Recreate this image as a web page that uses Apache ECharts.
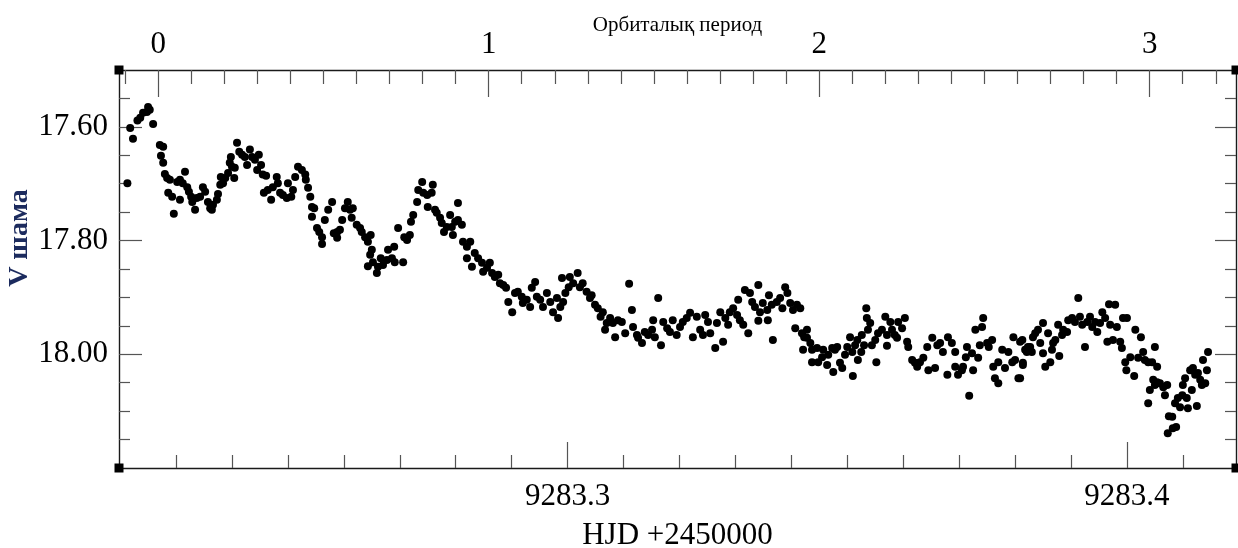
<!DOCTYPE html>
<html>
<head>
<meta charset="utf-8">
<script src="https://cdn.jsdelivr.net/npm/echarts@6/dist/echarts.min.js"></script>
<style>
  html, body { margin: 0; padding: 0; background: #fff; }
  #chart { width: 1238px; height: 548px; }
</style>
</head>
<body>
<div id="chart"></div>
<script>
// Light curve: V magnitude against time (HJD - 2459283, days)
const hjdBase = 9283;
const hjdOffset = [
  0.2213,0.2218,0.2223,0.2231,0.2236,0.2241,0.2248,0.2250,0.2253,0.2259,
  0.2271,0.2277,0.2273,0.2277,0.2280,0.2284,0.2289,0.2286,0.2293,0.2296,
  0.2302,0.2307,0.2307,0.2312,0.2316,0.2320,0.2323,0.2327,0.2329,0.2334,
  0.2337,0.2343,0.2348,0.2352,0.2357,0.2361,0.2364,0.2366,0.2373,0.2375,
  0.2379,0.2380,0.2384,0.2388,0.2393,0.2396,0.2400,0.2398,0.2404,0.2405,
  0.2409,0.2413,0.2418,0.2423,0.2427,0.2432,0.2436,0.2441,0.2445,0.2448,
  0.2452,0.2455,0.2461,0.2457,0.2464,0.2470,0.2473,0.2480,0.2482,0.2486,
  0.2491,0.2498,0.2500,0.2506,0.2509,0.2513,0.2518,0.2525,0.2531,0.2532,
  0.2536,0.2540,0.2543,0.2547,0.2543,0.2552,0.2556,0.2561,0.2561,0.2566,
  0.2572,0.2579,0.2582,0.2588,0.2593,0.2597,0.2602,
  0.2588,0.2607,0.2611,0.2614,0.2616,0.2623,0.2629,0.2632,0.2638,0.2643,
  0.2648,0.2650,0.2647,0.2643,0.2652,0.2659,0.2661,0.2666,0.2670,0.2677,
  0.2679,0.2686,0.2690,0.2691,0.2697,0.2706,0.2708,0.2713,0.2718,0.2720,
  0.2724,0.2731,0.2733,0.2740,0.2742,0.2749,0.2750,0.2757,0.2759,0.2763,
  0.2766,0.2772,0.2775,0.2779,0.2784,0.2790,0.2793,0.2795,0.2804,0.2799,
  0.2804,0.2811,0.2813,0.2820,0.2826,0.2820,0.2829,0.2834,0.2840,0.2847,
  0.2849,0.2856,0.2861,0.2865,0.2870,0.2876,0.2879,0.2885,0.2890,0.2894,
  0.2901,0.2906,0.2911,0.2918,0.2920,0.2927,0.2933,0.2936,0.2942,0.2945,
  0.2951,0.2956,0.2963,0.2969,0.2974,0.2983,0.2981,0.2990,0.2992,
  0.2987,0.2996,0.3002,0.3004,0.3010,0.3018,0.3022,0.3027,0.3034,0.3040,
  0.3043,0.3049,0.3054,0.3059,0.3063,0.3067,0.3070,0.3076,0.3081,0.3085,
  0.3090,0.3097,0.3103,0.3110,0.3115,0.3117,0.3124,0.3126,0.3133,0.3138,
  0.3144,0.3151,0.3153,0.3156,0.3162,0.3167,0.3171,0.3178,0.3183,0.3188,
  0.3195,0.3201,0.3206,0.3213,0.3219,0.3224,0.3231,0.3237,0.3242,0.3246,
  0.3251,0.3255,0.3264,0.3267,0.3273,0.3278,0.3282,0.3287,0.3290,0.3296,
  0.3303,0.3305,0.3308,0.3314,0.3317,0.3323,0.3326,0.3330,0.3335,0.3341,
  0.3344,0.3341,0.3349,0.3357,0.3358,0.3360,0.3367,0.3365,0.3374,0.3380,
  0.3384,0.3389,0.3393,0.3398,0.3403,0.3407,0.3410,0.3416,0.3419,0.3421,
  0.3428,0.3434,0.3437,
  0.3423,0.3428,0.3437,0.3446,0.3448,0.3455,0.3457,0.3464,0.3466,0.3473,
  0.3475,0.3478,0.3482,0.3487,0.3491,0.3496,0.3500,0.3505,0.3509,0.3510,
  0.3514,0.3518,0.3519,0.3525,0.3526,0.3530,0.3534,0.3535,0.3541,0.3537,
  0.3544,0.3550,0.3552,0.3555,0.3562,0.3568,0.3571,0.3571,0.3577,0.3580,
  0.3585,0.3589,0.3591,0.3598,0.3603,0.3607,0.3609,0.3616,0.3621,0.3625,
  0.3630,0.3636,0.3643,0.3645,0.3652,0.3657,0.3661,0.3666,0.3671,0.3679,
  0.3680,0.3687,0.3693,0.3693,0.3698,0.3705,0.3707,0.3712,0.3714,0.3718,
  0.3723,0.3725,0.3729,0.3734,0.3737,0.3741,0.3743,0.3750,0.3753,0.3759,
  0.3761,0.3764,0.3770,0.3770,0.3777,0.3782,0.3788,0.3795,0.3797,0.3800,
  0.3806,0.3809,0.3814,0.3821,0.3823,
  0.3809,0.3813,0.3818,0.3814,0.3827,0.3830,0.3832,0.3836,0.3841,0.3845,
  0.3850,0.3850,0.3854,0.3859,0.3863,0.3866,0.3868,0.3872,0.3877,0.3879,
  0.3884,0.3886,0.3893,0.3895,0.3902,0.3907,0.3913,0.3916,0.3920,0.3925,
  0.3929,0.3934,0.3938,0.3943,0.3947,0.3952,0.3956,0.3961,0.3965,0.3968,
  0.3970,0.3975,0.3979,0.3982,0.3988,0.3991,0.3993,0.4000,0.3997,0.3999,
  0.4006,0.4013,0.4015,0.4020,0.4025,0.4029,0.4032,0.4038,0.4045,0.4050,
  0.4054,0.4038,0.4041,0.4047,0.4050,0.4054,0.4059,0.4065,0.4068,0.4072,
  0.4075,0.4081,0.4073,0.4082,0.4088,0.4086,0.4091,0.4095,0.4099,0.4100,
  0.4104,0.4107,0.4109,0.4113,0.4116,0.4118,0.4122,0.4125,0.4127,0.4131,
  0.4134,0.4136,0.4140,0.4143,0.4145
];
const vMag = [
  17.699,17.602,17.621,17.589,17.584,17.575,17.574,17.565,17.570,17.595,
  17.632,17.635,17.651,17.663,17.683,17.690,17.693,17.716,17.723,17.753,
  17.697,17.693,17.728,17.699,17.679,17.706,17.714,17.723,17.732,17.746,
  17.725,17.723,17.706,17.714,17.732,17.743,17.746,17.737,17.728,17.718,
  17.702,17.688,17.699,17.690,17.681,17.663,17.670,17.653,17.690,17.672,
  17.628,17.644,17.649,17.653,17.667,17.640,17.653,17.658,17.676,17.649,
  17.667,17.684,17.686,17.716,17.711,17.728,17.706,17.688,17.699,17.716,
  17.720,17.725,17.699,17.723,17.711,17.688,17.670,17.676,17.684,17.693,
  17.707,17.723,17.741,17.743,17.758,17.778,17.785,17.794,17.806,17.764,
  17.746,17.732,17.787,17.785,17.781,17.764,17.743,
  17.795,17.732,17.746,17.760,17.743,17.772,17.778,17.785,17.794,17.802,
  17.790,17.816,17.825,17.845,17.838,17.857,17.846,17.831,17.843,17.834,
  17.816,17.831,17.811,17.838,17.778,17.838,17.794,17.799,17.790,17.767,
  17.755,17.732,17.711,17.697,17.716,17.720,17.741,17.716,17.702,17.746,
  17.751,17.760,17.769,17.785,17.776,17.755,17.776,17.790,17.734,17.767,
  17.764,17.772,17.802,17.811,17.802,17.831,17.846,17.822,17.831,17.839,
  17.855,17.848,17.839,17.857,17.864,17.860,17.875,17.878,17.883,17.908,
  17.926,17.892,17.890,17.899,17.910,17.904,17.917,17.883,17.873,17.899,
  17.904,17.917,17.892,17.908,17.926,17.936,17.901,17.866,17.908,
  17.917,17.892,17.882,17.864,17.875,17.857,17.882,17.875,17.890,17.901,
  17.896,17.913,17.919,17.934,17.926,17.957,17.945,17.936,17.945,17.970,
  17.940,17.943,17.963,17.876,17.922,17.952,17.966,17.971,17.980,17.961,
  17.966,17.957,17.940,17.970,17.901,17.984,17.943,17.954,17.961,17.940,
  17.966,17.952,17.943,17.936,17.927,17.970,17.934,17.957,17.966,17.931,
  17.943,17.963,17.989,17.945,17.926,17.978,17.936,17.948,17.926,17.919,
  17.931,17.904,17.940,17.948,17.887,17.963,17.892,17.908,17.917,17.878,
  17.926,17.941,17.910,17.922,17.940,17.896,17.975,17.913,17.908,17.901,
  17.919,17.882,17.892,17.910,17.922,17.954,17.913,17.919,17.963,17.992,
  17.971,17.980,17.992,
  17.970,17.957,18.014,17.989,18.014,18.005,17.992,18.019,18.001,17.989,
  18.031,17.992,17.987,18.015,18.024,18.001,17.987,17.970,17.996,18.038,
  17.984,17.975,18.010,17.996,17.966,17.984,17.919,17.936,17.945,17.957,
  17.984,17.975,18.014,17.963,17.957,17.934,17.966,17.985,17.943,17.957,
  17.966,17.971,17.943,17.954,17.936,17.978,17.987,18.010,18.015,18.022,
  18.014,18.006,17.987,18.028,17.971,18.024,17.984,17.980,17.996,18.036,
  17.970,17.980,17.996,18.022,18.036,18.028,18.022,18.005,17.987,18.073,
  17.998,18.028,17.957,18.006,17.984,17.952,17.936,17.980,17.987,17.975,
  18.022,18.042,18.051,18.014,17.992,18.024,17.996,18.014,17.970,18.010,
  18.042,17.978,18.015,17.996,17.987,
  18.042,17.975,17.992,18.019,17.987,17.996,17.970,17.963,17.957,17.980,
  17.998,17.945,18.022,17.963,18.014,17.992,17.980,17.975,17.948,18.003,
  17.966,17.957,17.961,17.940,17.936,17.943,17.901,17.934,17.948,17.987,
  17.943,17.934,17.952,17.943,17.961,17.945,17.926,17.936,17.978,17.912,
  17.948,17.975,17.913,17.952,17.978,17.989,17.936,17.936,18.014,18.028,
  18.005,18.038,17.957,18.006,17.970,17.996,18.010,18.014,18.014,17.987,
  18.022,18.086,18.063,18.045,18.054,18.049,18.051,18.058,18.072,18.054,
  18.109,18.110,18.139,18.130,18.128,18.086,18.077,18.093,18.072,18.054,
  18.042,18.077,18.095,18.028,18.063,18.024,18.036,18.091,18.033,18.045,
  18.054,18.010,18.051,18.028,17.996
];

// Axis ranges and ephemeris for the orbital-phase scale
const X_MIN = 9283.2198, X_MAX = 9283.4195;
const Y_MIN = 17.50, Y_MAX = 18.20;
const T0 = 9283.2268;      // phase zero
const PERIOD = 0.05909;    // days
const hjdLabels = [9283.3, 9283.4];
const magLabels = [17.60, 17.80, 18.00];
const phaseLabels = [0, 1, 2, 3];

const hjdMinor = [];
for (let i = 23; i <= 41; i++) { if (i !== 30 && i !== 40) hjdMinor.push(hjdBase + i / 100); }
const magMinor = [];
for (let i = 351; i <= 363; i++) { if (i % 4 !== 0) magMinor.push(i / 20); }
const phaseMinor = [];
for (let i = -1; i <= 32; i++) { if (i % 10 !== 0) phaseMinor.push(i / 10); }

const points = hjdOffset.map((t, i) => [hjdBase + t, vMag[i]]);
const corners = [[X_MIN, Y_MIN], [X_MIN, Y_MAX], [X_MAX, Y_MIN], [X_MAX, Y_MAX]];

const FONT = 'Liberation Serif';
const lineStyle = { color: '#1a1a1a', width: 1.4 };
const tickStyle = { color: '#555', width: 1.2 };
const PHASE_MIN = (X_MIN - T0) / PERIOD, PHASE_MAX = (X_MAX - T0) / PERIOD;

function valueAxis(extra) {
  return Object.assign({
    type: 'value', scale: true, nameMoveOverlap: false,
    splitLine: { show: false },
    axisLine: { show: true, onZero: false, lineStyle: lineStyle },
  }, extra);
}
// Second, identical frame that carries only the long (major) ticks
function majorTicks(gridIndex, position, min, max, values, length, inverse) {
  return valueAxis({
    gridIndex, position, min, max, inverse: !!inverse,
    axisLine: { show: false, onZero: false },
    axisTick: { show: true, inside: true, length, lineStyle: tickStyle, customValues: values },
    axisLabel: { show: false }
  });
}

const box = { left: 119, right: 2, top: 70, bottom: 80, containLabel: false, outerBoundsMode: 'none' };

const chart = echarts.init(document.getElementById('chart'), null, { renderer: 'canvas' });
chart.setOption({
  animation: false,
  backgroundColor: '#fff',
  grid: [Object.assign({}, box), Object.assign({}, box)],
  xAxis: [
    valueAxis({
      gridIndex: 0, position: 'bottom', min: X_MIN, max: X_MAX,
      name: 'HJD +2450000', nameLocation: 'middle', nameGap: 52,
      nameTextStyle: { fontFamily: FONT, fontSize: 31, color: '#000' },
      axisTick: { show: true, inside: true, length: 13, lineStyle: tickStyle, customValues: hjdMinor },
      axisLabel: { show: true, margin: 13, fontFamily: FONT, fontSize: 31, color: '#000',
        customValues: hjdLabels, formatter: v => v.toFixed(1) }
    }),
    valueAxis({
      gridIndex: 0, position: 'top', min: PHASE_MIN, max: PHASE_MAX,
      name: 'Орбиталық период', nameLocation: 'middle', nameGap: 34,
      nameTextStyle: { fontFamily: FONT, fontSize: 21, color: '#000' },
      axisTick: { show: true, inside: true, length: 14, lineStyle: tickStyle, customValues: phaseMinor },
      axisLabel: { show: true, margin: 10, fontFamily: FONT, fontSize: 31, color: '#000',
        customValues: phaseLabels, formatter: v => String(Math.round(v)) }
    }),
    majorTicks(1, 'bottom', X_MIN, X_MAX, hjdLabels, 26),
    majorTicks(1, 'top', PHASE_MIN, PHASE_MAX, phaseLabels, 27)
  ],
  yAxis: [
    valueAxis({
      gridIndex: 0, position: 'left', min: Y_MIN, max: Y_MAX, inverse: true,
      axisTick: { show: true, inside: true, length: 11, lineStyle: tickStyle, customValues: magMinor },
      axisLabel: { show: true, margin: 11, fontFamily: FONT, fontSize: 31, color: '#000',
        customValues: magLabels, formatter: v => v.toFixed(2) }
    }),
    valueAxis({
      gridIndex: 0, position: 'right', min: Y_MIN, max: Y_MAX, inverse: true,
      axisTick: { show: true, inside: true, length: 11, lineStyle: tickStyle, customValues: magMinor },
      axisLabel: { show: false }
    }),
    majorTicks(1, 'left', Y_MIN, Y_MAX, magLabels, 23, true),
    majorTicks(1, 'right', Y_MIN, Y_MAX, magLabels, 21, true)
  ],
  graphic: [{
    type: 'text', x: 20, y: 238, rotation: Math.PI / 2, silent: true,
    style: { text: 'V шама', fontFamily: FONT, fontSize: 28, fontWeight: 'bold',
      fill: '#1c2b5e', align: 'center', verticalAlign: 'middle' }
  }],
  series: [
    {
      type: 'scatter', xAxisIndex: 0, yAxisIndex: 0,
      data: points, symbol: 'circle', symbolSize: 8,
      itemStyle: { color: '#000', opacity: 1 }, silent: true
    },
    {
      type: 'scatter', xAxisIndex: 0, yAxisIndex: 0, clip: false,
      data: corners, symbol: 'rect', symbolSize: 9,
      itemStyle: { color: '#000', opacity: 1 }, silent: true
    },
    {
      type: 'scatter', xAxisIndex: 2, yAxisIndex: 2, data: [], silent: true
    }
  ]
});
</script>
</body>
</html>
